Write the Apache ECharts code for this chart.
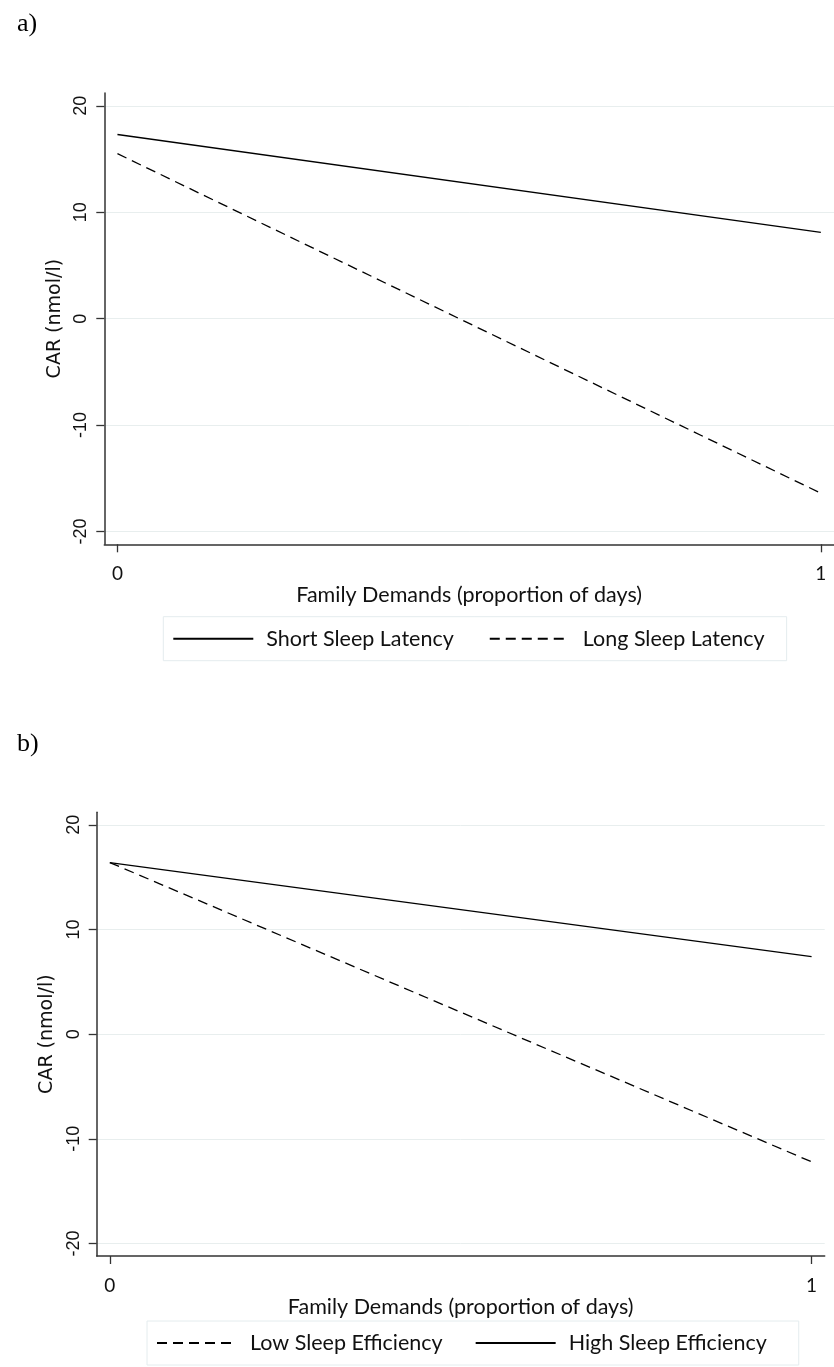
<!DOCTYPE html>
<html><head><meta charset="utf-8">
<script src="https://cdn.jsdelivr.net/npm/echarts@6/dist/echarts.min.js"></script>
<style>html,body{margin:0;padding:0;background:#fff}#c{width:834px;height:1367px}</style>
</head><body><div id="c"></div>
<script>
// ---- data ----
const xValues = [0, 1];
const shortLatency = [17.3, 8.1];
const longLatency = [15.5, -16.4];
const lowEfficiency = [16.4, -12.2];
const highEfficiency = [16.4, 7.4];
const yTicks = [-20, -10, 0, 10, 20];
const xTicks = [0, 1];
const xTitle = 'Family Demands (proportion of days)';
const yTitle = 'CAR (nmol/l)';

const pair = ys => xValues.map((x, i) => [x, ys[i]]);

const AX = '#333333';
const GRIDC = '#e8eeee';
const sans = 'Liberation Sans';
const cal = 'Lato';

function xAxisCfg(idx) {
  return {
    type: 'value', gridIndex: idx, min: -0.0187, max: 1.0187,
    name: xTitle, nameLocation: 'middle', nameGap: 37,
    nameTextStyle: { fontFamily: cal, fontSize: 21.5, color: '#111' },
    axisLine: { onZero: false, lineStyle: { color: AX, width: 1.5 } },
    axisTick: { show: true, length: 8, customValues: xTicks, lineStyle: { color: AX, width: 1.3 } },
    axisLabel: { customValues: xTicks, margin: 20, fontFamily: cal, fontSize: 19, color: '#111' },
    splitLine: { show: false }
  };
}
function yAxisCfg(idx) {
  return {
    type: 'value', gridIndex: idx, min: -21.2, max: 21.2,
    name: yTitle, nameLocation: 'middle', nameGap: 38,
    nameTextStyle: { fontFamily: 'DejaVu Sans', fontSize: 19, color: '#111' },
    axisLine: { onZero: false, lineStyle: { color: AX, width: 1.5 } },
    axisTick: { show: true, length: 8, customValues: yTicks, lineStyle: { color: AX, width: 1.3 } },
    axisLabel: { customValues: yTicks, rotate: 90, margin: 14, fontFamily: sans, fontSize: 18, color: '#111' },
    splitLine: { show: true, lineStyle: { color: GRIDC, width: 1 } }
  };
}
function lineSeries(name, ys, idx, dashed) {
  return {
    type: 'line', name, xAxisIndex: idx, yAxisIndex: idx, data: pair(ys),
    symbol: 'none', showSymbol: false, silent: true,
    lineStyle: { color: '#000', width: 1.3, type: dashed ? [10, 6] : 'solid' },
    itemStyle: { color: '#000' }
  };
}
function legendCfg(left, top, names, gap, pad) {
  return {
    left, top, orient: 'horizontal', data: names,
    itemWidth: 80, itemHeight: 14, itemGap: gap,
    padding: pad, borderColor: '#e4ecee', borderWidth: 1, borderRadius: 0,
    itemStyle: { color: 'rgba(0,0,0,0)', borderWidth: 0, opacity: 0 },
    textStyle: { fontFamily: cal, fontSize: 21.5, color: '#111', padding: [0, 0, 0, 8], lineHeight: 20 },
    selectedMode: false
  };
}

const chart = echarts.init(document.getElementById('c'), null, { renderer: 'canvas' });
chart.setOption({
  animation: false,
  backgroundColor: '#fff',
  title: [
    { text: 'a)', left: 12, top: 6, textStyle: { fontFamily: 'Liberation Serif', fontSize: 26, fontWeight: 'normal', color: '#000' } },
    { text: 'b)', left: 12, top: 726, textStyle: { fontFamily: 'Liberation Serif', fontSize: 26, fontWeight: 'normal', color: '#000' } }
  ],
  grid: [
    { left: 104.3, top: 93, width: 740, height: 451.3, containLabel: false },
    { left: 96.7, top: 812.3, width: 728, height: 443.7, containLabel: false }
  ],
  xAxis: [xAxisCfg(0), xAxisCfg(1)],
  yAxis: [yAxisCfg(0), yAxisCfg(1)],
  legend: [
    legendCfg(163.3, 616.7, ['Short Sleep Latency', 'Long Sleep Latency'], 35, [11, 22, 11, 9]),
    legendCfg(147, 1321, ['Low Sleep Efficiency', 'High Sleep Efficiency'], 32, [11, 32, 11, 9])
  ],
  series: [
    lineSeries('Short Sleep Latency', shortLatency, 0, false),
    lineSeries('Long Sleep Latency', longLatency, 0, true),
    lineSeries('Low Sleep Efficiency', lowEfficiency, 1, true),
    lineSeries('High Sleep Efficiency', highEfficiency, 1, false)
  ]
});
</script></body></html>
